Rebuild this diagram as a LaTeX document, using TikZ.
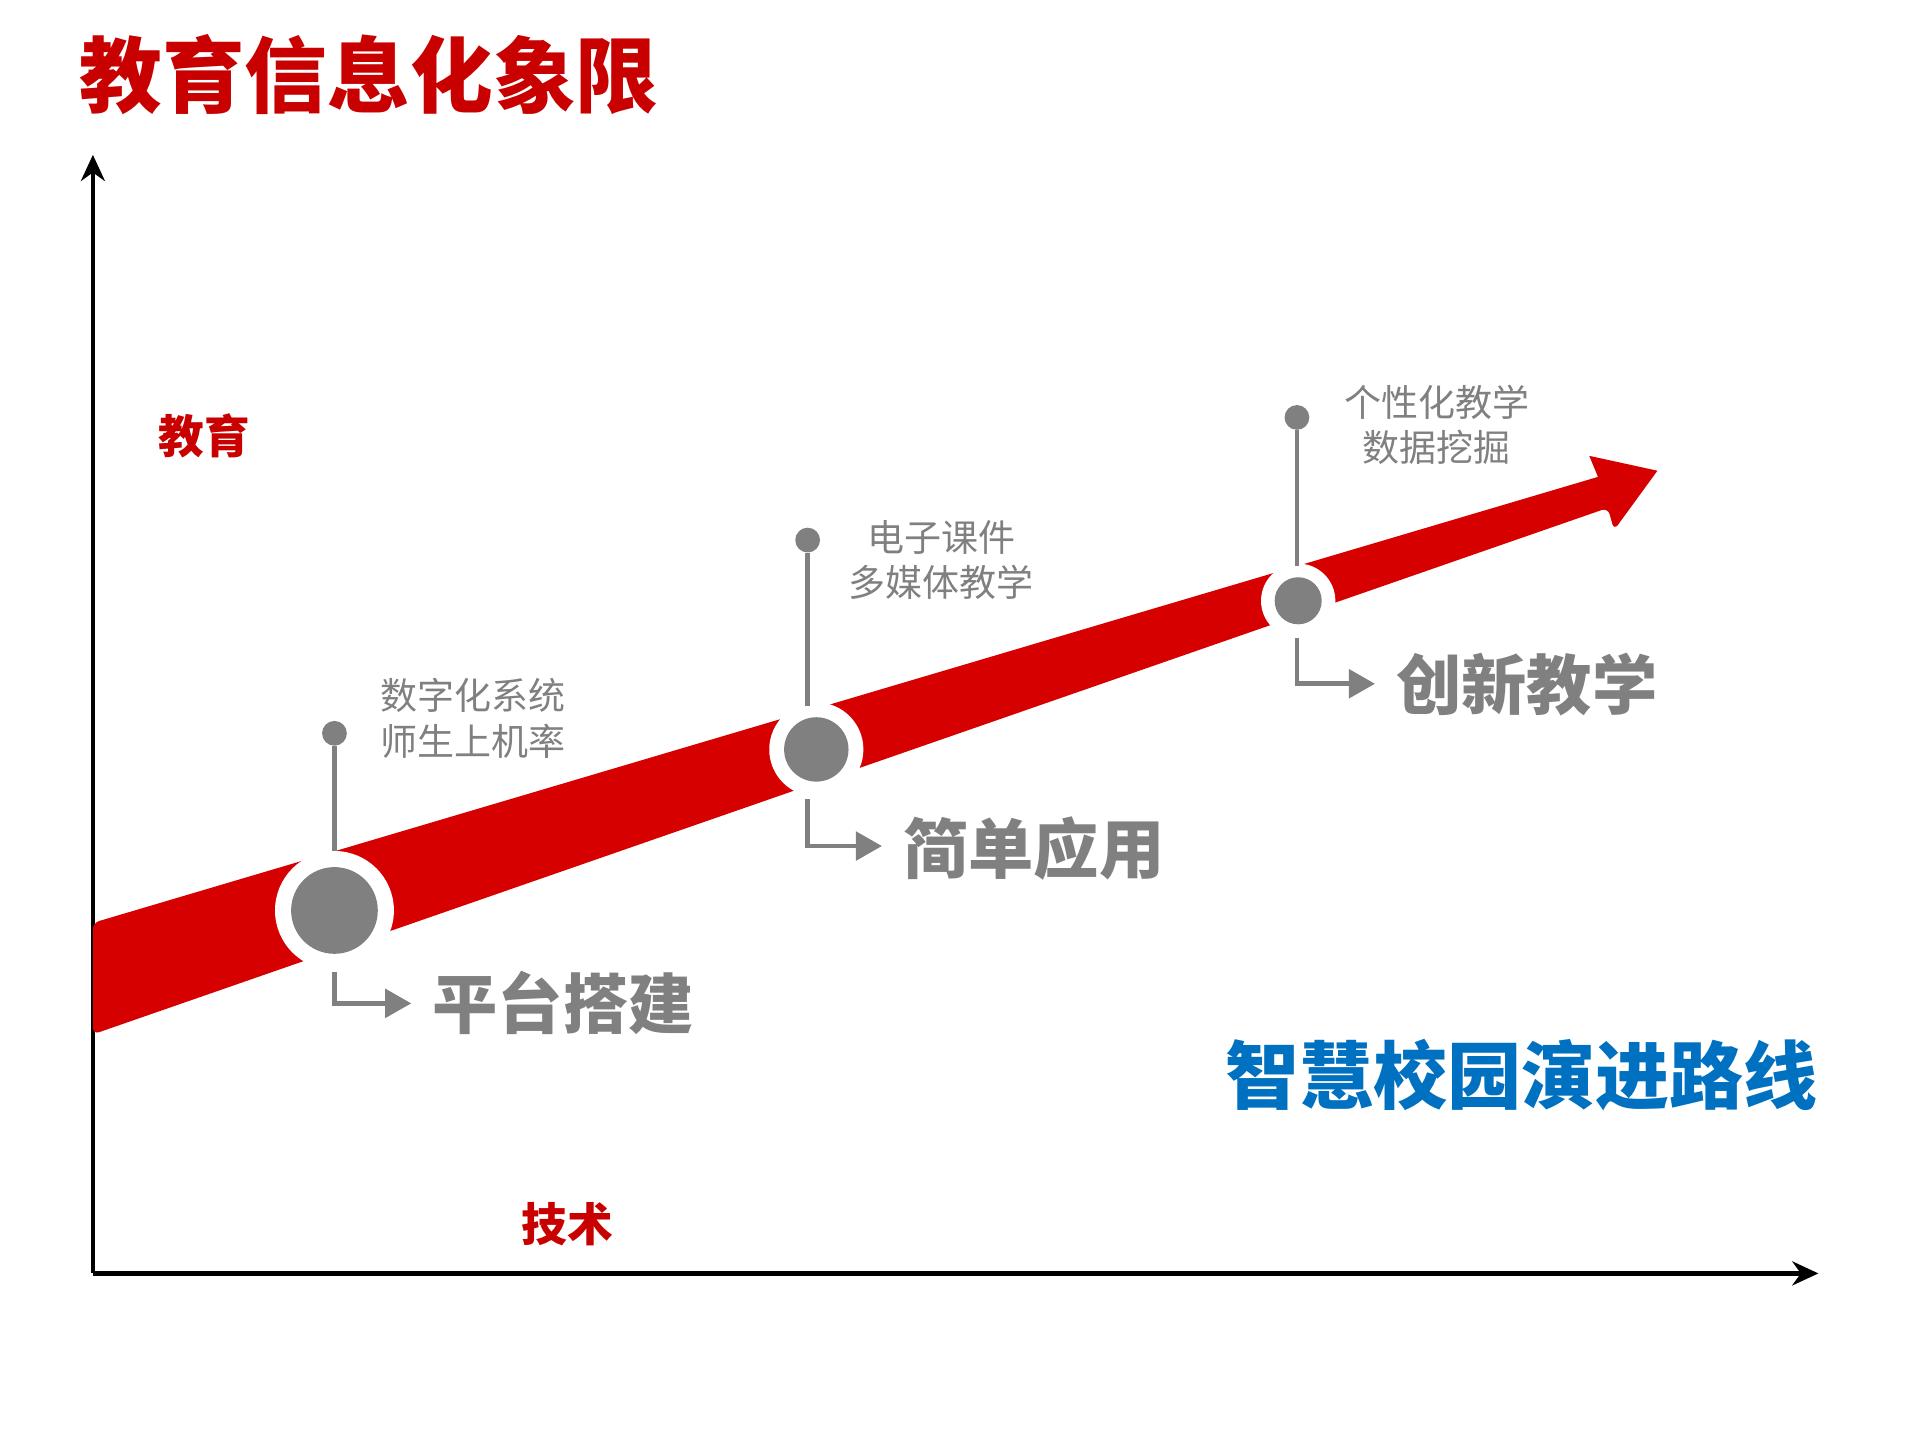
\documentclass[tikz,border=0pt]{standalone}
\usepackage{fontspec}
\usetikzlibrary{arrows.meta}
\newfontfamily\cjk{Noto Sans CJK SC}
\definecolor{bandred}{RGB}{214,0,0}
\definecolor{dred}{RGB}{200,0,0}
\definecolor{pg}{RGB}{128,128,128}
\definecolor{bl}{RGB}{0,112,192}
\begin{document}
\begin{tikzpicture}[x=0.02cm,y=-0.02cm,
  small/.style={font=\cjk\fontsize{17}{21}\selectfont,text=pg,align=center},
  big/.style={font=\cjk\bfseries\fontsize{30}{34}\selectfont,text=pg,anchor=west},
  pin/.style={draw=pg,line width=2.2pt},
  larrow/.style={draw=pg,line width=2.2pt,-{Triangle[length=12pt,width=13pt]}}]
\useasboundingbox (0,0) rectangle (1550,1162);
% axes
\coordinate (o) at (75,1028);
\coordinate (ytop) at (75,125);
\coordinate (xend) at (1468,1028);
\draw[line width=2.2pt,-{Stealth[length=12pt,width=11pt]}] (o) -- (ytop);
\draw[line width=2.2pt,-{Stealth[length=12pt,width=11pt]}] (o) -- (xend);
% band
\fill[bandred] (75,745) -- (1290,385) -- (1283,368) -- (1338,380) [rounded corners=3pt]-- (1303,428) -- (1298,410) -- (75,835) -- cycle;
% circles
\fill[white] (270,735) circle (48);
\node[circle,fill=pg,minimum size=70*0.02cm,inner sep=0] (c1) at (270,735) {};
\fill[white] (659,605) circle (38);
\node[circle,fill=pg,minimum size=52*0.02cm,inner sep=0] (c2) at (659,605) {};
\fill[white] (1048,485) circle (30);
\node[circle,fill=pg,minimum size=38*0.02cm,inner sep=0] (c3) at (1048,485) {};
% pins
\node[circle,fill=pg,minimum size=20*0.02cm,inner sep=0] (p1) at (270,592) {};
\node[circle,fill=pg,minimum size=20*0.02cm,inner sep=0] (p2) at (652,436) {};
\node[circle,fill=pg,minimum size=20*0.02cm,inner sep=0] (p3) at (1047,337) {};
\coordinate (b1) at (270,687); \coordinate (b2) at (652,570); \coordinate (b3) at (1047,457);
\draw[pin] (p1) -- (b1);
\draw[pin] (p2) -- (b2);
\draw[pin] (p3) -- (b3);
% L arrows
\coordinate (s1) at (270,785); \coordinate (e1) at (332,810);
\coordinate (s2) at (652,645); \coordinate (e2) at (712,683);
\coordinate (s3) at (1047,515); \coordinate (e3) at (1110,552);
\draw[larrow] (s1) |- (e1);
\draw[larrow] (s2) |- (e2);
\draw[larrow] (s3) |- (e3);
% labels
\node[big] (l1) at (343,810) {平台搭建};
\node[big] (l2) at (723,685) {简单应用};
\node[big] (l3) at (1121,553) {创新教学};
\node[small] (t1) at (382,580) {数字化系统\\师生上机率};
\node[small] (t2) at (760,452) {电子课件\\多媒体教学};
\node[small] (t3) at (1160,343) {个性化教学\\数据挖掘};
\node[font=\cjk\bfseries\fontsize{38}{40}\selectfont,text=dred,anchor=west] (title) at (58,60) {教育信息化象限};
\node[font=\cjk\bfseries\fontsize{34}{38}\selectfont,text=bl] (bt) at (1228,868) {智慧校园演进路线};
\node[font=\cjk\bfseries\fontsize{21}{24}\selectfont,text=dred] (ya) at (165,352) {教育};
\node[font=\cjk\bfseries\fontsize{21}{24}\selectfont,text=dred] (xa) at (458,988) {技术};
\end{tikzpicture}
\end{document}
